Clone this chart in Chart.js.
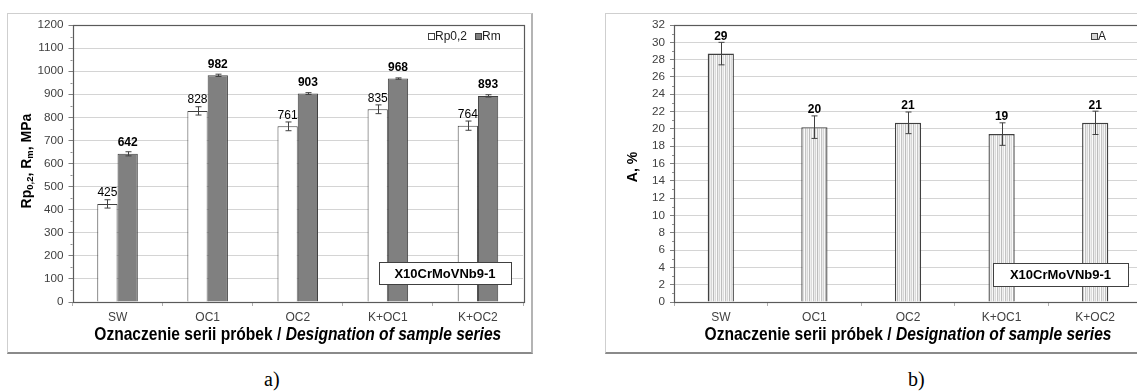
<!DOCTYPE html>
<html>
<head>
<meta charset="utf-8">
<script src="https://cdn.jsdelivr.net/npm/chart.js@4.4.1/dist/chart.umd.min.js"></script>
<style>
  html, body { margin: 0; padding: 0; width: 1137px; height: 392px; overflow: hidden; background: #fff; }
  .frame { position: absolute; box-sizing: border-box; border: 1px solid #cfcfcf; border-bottom: 2px solid #8a8a8a; border-right: 2px solid #b4b4b4; }
  .box { position: absolute; }
  .caption { position: absolute; font-family: "Liberation Serif", "DejaVu Serif", serif; font-size: 20px; line-height: 20px; color: #000; }
</style>
</head>
<body>
<div class="frame" style="left:7px;top:13px;width:526px;height:341px;"></div>
<div class="frame" style="left:605px;top:13px;width:600px;height:341px;"></div>
<div class="box" style="left:7px;top:13px;"><canvas id="chartA" width="526" height="340"></canvas></div>
<div class="box" style="left:605px;top:13px;"><canvas id="chartB" width="560" height="340"></canvas></div>
<div class="caption" style="left:264px;top:369px;">a)</div>
<div class="caption" style="left:908px;top:369px;">b)</div>

<script>
// dane z wykresu
const categories = ['SW', 'OC1', 'OC2', 'K+OC1', 'K+OC2'];
const rpValues = [425, 828, 761, 835, 764];
const rpErrors = [18, 18, 19, 19, 20];
const rmValues = [642, 982, 903, 968, 893];
const rmErrors = [9, 5, 4, 3, 5];
const aValues = [28.7, 20.2, 20.7, 19.4, 20.7];
const aErrors = [1.3, 1.3, 1.25, 1.3, 1.35];
const aLabels = aValues.map(v => String(Math.round(v)));

const materialName = 'X10CrMoVNb9-1';
const xTitleNormal = 'Oznaczenie serii próbek / ';
const xTitleItalic = 'Designation of sample series';

const FONT = '"Liberation Sans", Arial, sans-serif';
const TICK_COLOR = '#404040';

// wzor w paski dla slupkow A
function stripePattern() {
    const c = document.createElement('canvas');
    const shades = ['#c4c4c4', '#ececec', '#d6d6d6', '#f7f7f7', '#bcbcbc', '#efefef', '#dcdcdc', '#fbfbfb'];
    c.width = shades.length;
    c.height = 1;
    const g = c.getContext('2d');
    shades.forEach((s, i) => { g.fillStyle = s; g.fillRect(i, 0, 1, 1); });
    return g.createPattern(c, 'repeat');
}

// rysowanie: ramka, slupki bledow, etykiety, legenda, tytuly osi
function decoPlugin(cfg) {
    return {
        id: 'deco',
        afterDatasetsDraw(chart) {
            const ctx = chart.ctx;
            const area = chart.chartArea;
            const y = chart.scales.y;
            ctx.save();

            // drobne znaczniki osi Y
            ctx.strokeStyle = '#909090';
            ctx.lineWidth = 1;
            for (let v = cfg.minorStep / 2; v < cfg.yMax; v += cfg.minorStep) {
                const py = Math.round(y.getPixelForValue(v)) + 0.5;
                ctx.beginPath();
                ctx.moveTo(area.left - 2, py);
                ctx.lineTo(area.left, py);
                ctx.stroke();
            }

            // ramka obszaru wykresu
            ctx.strokeStyle = '#5a5a5a';
            ctx.lineWidth = 1.2;
            ctx.strokeRect(Math.round(area.left) + 0.5, Math.round(area.top) + 0.5,
                Math.round(area.right - area.left), Math.round(area.bottom - area.top));

            chart.data.datasets.forEach((ds, i) => {
                const meta = chart.getDatasetMeta(i);
                meta.data.forEach((bar, j) => {
                    const v = ds.data[j];
                    const e = ds.errors[j];
                    const x = Math.round(bar.x) + 0.5;
                    const yTop = y.getPixelForValue(v + e);
                    const yBot = y.getPixelForValue(v - e);
                    ctx.strokeStyle = '#404040';
                    ctx.lineWidth = 1;
                    ctx.beginPath();
                    ctx.moveTo(x, yTop); ctx.lineTo(x, yBot);
                    ctx.moveTo(x - 3, yTop); ctx.lineTo(x + 3, yTop);
                    ctx.moveTo(x - 3, yBot); ctx.lineTo(x + 3, yBot);
                    ctx.stroke();

                    ctx.fillStyle = '#000';
                    ctx.font = (ds.labelBold ? 'bold ' : '') + '12px ' + FONT;
                    ctx.textAlign = 'center';
                    ctx.textBaseline = 'middle';
                    const txt = ds.valueLabels ? ds.valueLabels[j] : String(v);
                    ctx.fillText(txt, bar.x, y.getPixelForValue(v) - ds.labelOffset);
                });
            });

            // ramka z nazwa stali
            const b = cfg.box;
            ctx.fillStyle = '#fff';
            ctx.fillRect(b.x, b.y, b.w, b.h);
            ctx.strokeStyle = '#404040';
            ctx.lineWidth = 1;
            ctx.strokeRect(b.x + 0.5, b.y + 0.5, b.w, b.h);
            ctx.fillStyle = '#000';
            ctx.font = 'bold 13px ' + FONT;
            ctx.textAlign = 'center';
            ctx.textBaseline = 'middle';
            ctx.fillText(materialName, b.x + b.w / 2, b.y + b.h / 2 + 1);

            // legenda
            let lx = cfg.legend.x;
            const ly = cfg.legend.y;
            ctx.font = '12px ' + FONT;
            ctx.textAlign = 'left';
            chart.data.datasets.forEach(ds => {
                ctx.fillStyle = ds.legendFill;
                ctx.fillRect(lx, ly - 3, 6, 6);
                ctx.strokeStyle = '#404040';
                ctx.strokeRect(lx + 0.5, ly - 3.5, 6, 6);
                ctx.fillStyle = '#202020';
                ctx.fillText(ds.label, lx + 7, ly);
                lx += 8 + ctx.measureText(ds.label).width + 7;
            });
            ctx.restore();
        },
        afterDraw(chart) {
            const ctx = chart.ctx;
            const area = chart.chartArea;
            ctx.save();
            ctx.fillStyle = '#000';

            // tytul osi X (waski, bold)
            ctx.save();
            const cx = (area.left + area.right) / 2;
            ctx.translate(cx, cfg.xTitleY);
            ctx.scale(0.82, 1);
            ctx.textBaseline = 'middle';
            ctx.font = 'bold 19px ' + FONT;
            const w1 = ctx.measureText(xTitleNormal).width;
            ctx.font = 'italic bold 19px ' + FONT;
            const w2 = ctx.measureText(xTitleItalic).width;
            let tx = -(w1 + w2) / 2;
            ctx.textAlign = 'left';
            ctx.font = 'bold 19px ' + FONT;
            ctx.fillText(xTitleNormal, tx, 0);
            ctx.font = 'italic bold 19px ' + FONT;
            ctx.fillText(xTitleItalic, tx + w1, 0);
            ctx.restore();

            // tytul osi Y z indeksami dolnymi
            ctx.save();
            ctx.translate(cfg.yTitle.x, cfg.yTitle.y);
            ctx.rotate(-Math.PI / 2);
            ctx.textBaseline = 'middle';
            ctx.textAlign = 'left';
            const big = 'bold 14px ' + FONT;
            const small = 'bold 9.5px ' + FONT;
            let total = 0;
            cfg.yTitle.parts.forEach(p => {
                ctx.font = p.sub ? small : big;
                total += ctx.measureText(p.t).width;
            });
            let px = -total / 2;
            cfg.yTitle.parts.forEach(p => {
                ctx.font = p.sub ? small : big;
                ctx.fillText(p.t, px, p.sub ? 3.5 : 0);
                px += ctx.measureText(p.t).width;
            });
            ctx.restore();
            ctx.restore();
        }
    };
}

function baseScales(yMax, step, yWidth) {
    return {
        x: {
            grid: { drawOnChartArea: false, drawTicks: true, tickLength: 4, tickColor: '#b0b0b0' },
            border: { display: false },
            ticks: { color: TICK_COLOR, font: { family: FONT, size: 12 }, padding: 4, maxRotation: 0 },
            afterFit(scale) { scale.height = 51; }
        },
        y: {
            min: 0,
            max: yMax,
            grid: { color: '#d4d4d4', lineWidth: 1, tickLength: 4, tickColor: '#808080' },
            border: { display: false },
            ticks: {
                stepSize: step,
                color: TICK_COLOR,
                font: { family: FONT, size: 11.7 },
                padding: 5,
                callback: value => String(value)
            },
            afterFit(scale) { scale.width = yWidth; }
        }
    };
}

// wykres a) Rp0,2 i Rm
new Chart(document.getElementById('chartA'), {
    type: 'bar',
    data: {
        labels: categories,
        datasets: [
            {
                label: 'Rp0,2',
                data: rpValues,
                errors: rpErrors,
                labelBold: false,
                labelOffset: 11,
                legendFill: '#ffffff',
                backgroundColor: '#ffffff',
                borderColor: '#404040',
                borderWidth: 1,
                barPercentage: 1,
                categoryPercentage: 0.45
            },
            {
                label: 'Rm',
                data: rmValues,
                errors: rmErrors,
                labelBold: true,
                labelOffset: 11,
                legendFill: '#808080',
                backgroundColor: '#808080',
                borderColor: '#404040',
                borderWidth: 1,
                barPercentage: 1,
                categoryPercentage: 0.45
            }
        ]
    },
    options: {
        responsive: false,
        animation: false,
        devicePixelRatio: 1,
        layout: { padding: { top: 11, right: 10, left: 0, bottom: 0 } },
        scales: baseScales(1200, 100, 65.5),
        plugins: { legend: { display: false }, tooltip: { enabled: false } }
    },
    plugins: [decoPlugin({
        yMax: 1200,
        minorStep: 100,
        xTitleY: 322,
        box: { x: 372, y: 249, w: 132, h: 22 },
        legend: { x: 421, y: 24 },
        yTitle: { x: 20, y: 148, parts: [
            { t: 'Rp' }, { t: '0,2', sub: true }, { t: ', R' }, { t: 'm', sub: true }, { t: ', MPa' }
        ] }
    })]
});

// wykres b) A
new Chart(document.getElementById('chartB'), {
    type: 'bar',
    data: {
        labels: categories,
        datasets: [
            {
                label: 'A',
                data: aValues,
                errors: aErrors,
                valueLabels: aLabels,
                labelBold: true,
                labelOffset: 17,
                legendFill: '#d8d8d8',
                backgroundColor: stripePattern(),
                borderColor: '#404040',
                borderWidth: 1.3,
                barPercentage: 0.28,
                categoryPercentage: 1
            }
        ]
    },
    options: {
        responsive: false,
        animation: false,
        devicePixelRatio: 1,
        layout: { padding: { top: 11, right: 23, left: 0, bottom: 0 } },
        scales: baseScales(32, 2, 69),
        plugins: { legend: { display: false }, tooltip: { enabled: false } }
    },
    plugins: [decoPlugin({
        yMax: 32,
        minorStep: 2,
        xTitleY: 322,
        box: { x: 388, y: 250, w: 135, h: 23 },
        legend: { x: 486, y: 24 },
        yTitle: { x: 28, y: 154, parts: [{ t: 'A, %' }] }
    })]
});
</script>
</body>
</html>
